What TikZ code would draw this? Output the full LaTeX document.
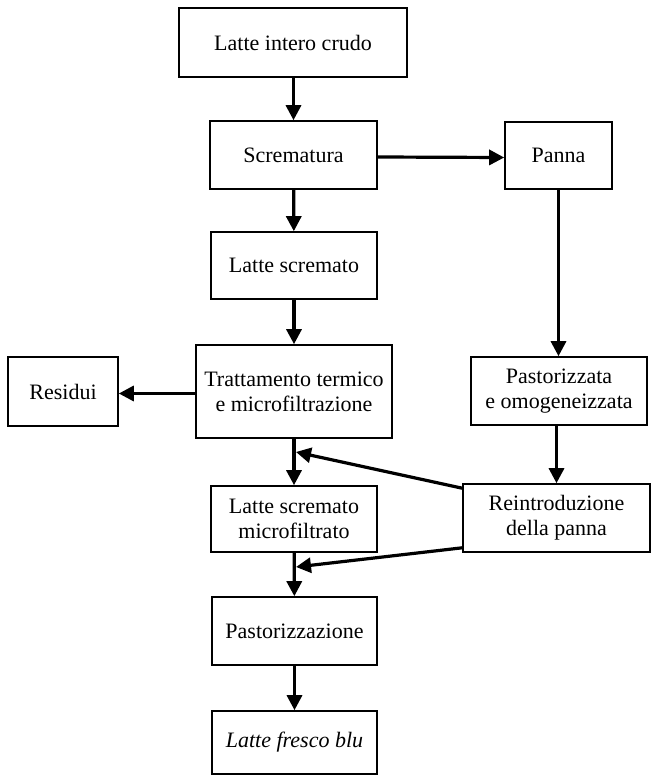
\documentclass[tikz,border=0pt]{standalone}
\usepackage{fontspec}
\setmainfont{Liberation Serif}
\usetikzlibrary{arrows.meta}
\begin{document}
\begin{tikzpicture}[x=1pt,y=-1pt,
  stepbox/.style={draw,line width=1.6pt,align=center,inner sep=0pt,
    font=\fontsize{22pt}{25pt}\selectfont},
  flow/.style={line width=3.2pt,-{Triangle[length=15pt,width=15pt]}}]
\useasboundingbox (0,0) rectangle (651,775);
% boxes: centre, width, height
\node[stepbox,minimum width=228pt,minimum height=69pt] (crudo) at (293,42.5) {Latte intero crudo};
\node[stepbox,minimum width=167pt,minimum height=68pt] (screma) at (293.5,155) {Scrematura};
\node[stepbox,minimum width=107pt,minimum height=67pt] (panna) at (558.5,155.5) {Panna};
\node[stepbox,minimum width=166pt,minimum height=67pt] (scremato) at (294,265.5) {Latte scremato};
\node[stepbox,minimum width=196pt,minimum height=93pt] (tratt) at (294,391.5) {Trattamento termico\\e microfiltrazione};
\node[stepbox,minimum width=110pt,minimum height=69pt] (residui) at (63,391.5) {Residui};
\node[stepbox,minimum width=176pt,minimum height=68pt] (past) at (559,391) {Pastorizzata\\e omogeneizzata};
\node[stepbox,minimum width=166pt,minimum height=66pt] (micro) at (294,519) {Latte scremato\\microfiltrato};
\node[stepbox,minimum width=187pt,minimum height=68pt] (reint) at (556.5,518) {Reintroduzione\\della panna};
\node[stepbox,minimum width=165pt,minimum height=68pt] (pastz) at (294.5,631) {Pastorizzazione};
\node[stepbox,minimum width=165pt,minimum height=63pt] (fresco) at (294.5,742.5) {\itshape Latte fresco blu};
% points where the cream rejoins the main line
\coordinate (j1) at (296,452);
\coordinate (j2) at (296,567);
% connectors
\draw[flow] (crudo.south -| screma.north) -- (screma.north);
\draw[flow] ([yshift=-2pt]screma.east) -- ([yshift=-2pt]panna.west);
\draw[flow] (screma) -- (scremato);
\draw[flow] (scremato) -- (tratt);
\draw[flow] ([yshift=-2pt]tratt.west) -- ([yshift=-2pt]residui.east);
\draw[flow] (panna.south) -- (panna.south |- past.north);
\draw[flow] (past.south -| reint.north) -- (reint.north);
\draw[flow] (tratt) -- (micro);
\draw[flow] ([yshift=-5pt]reint.north west) -- (j1);
\draw[flow] ([yshift=5pt]reint.south west) -- (j2);
\draw[flow] (micro) -- (pastz);
\draw[flow] (pastz) -- (fresco);
\end{tikzpicture}
\end{document}
